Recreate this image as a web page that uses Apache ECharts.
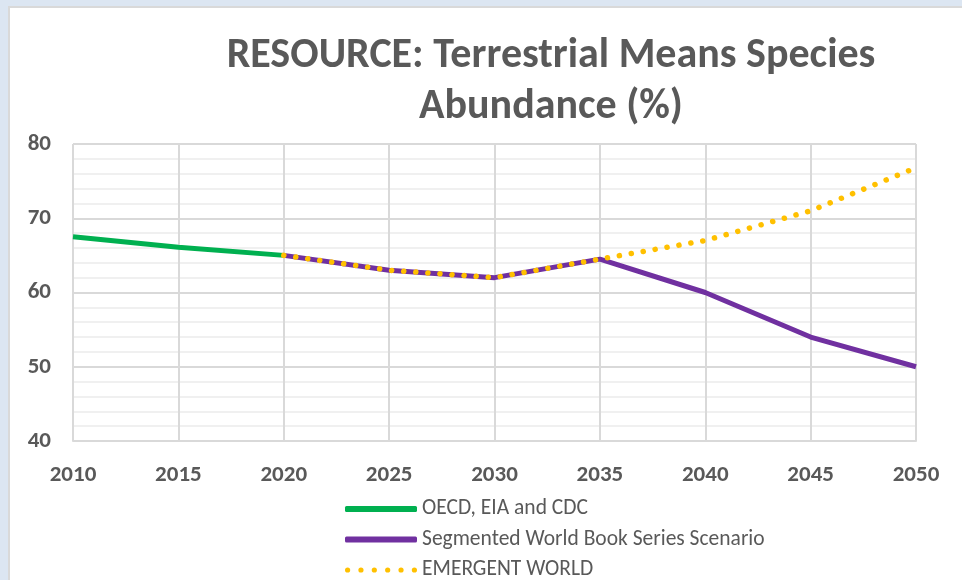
<!DOCTYPE html>
<html>
<head>
<meta charset="utf-8">
<script src="https://cdn.jsdelivr.net/npm/echarts@6/dist/echarts.min.js"></script>
<style>
  html, body { margin: 0; padding: 0; background: #dce6f2; overflow: hidden; height: 580px; }
  #chart {
    position: absolute; left: 8px; top: 6px;
    width: 952px; height: 600px;
    background: #fff;
    border-top: 2px solid #d9d9d9; border-left: 2px solid #d9d9d9;
  }
</style>
</head>
<body>
<div id="chart"></div>
<script>
// years on the x axis
const years = ['2010', '2015', '2020', '2025', '2030', '2035', '2040', '2045', '2050'];
// OECD, EIA and CDC (historic)
const oecdData = [67.5, 66.1, 65, null, null, null, null, null, null];
// Segmented World Book Series Scenario
const segmentedData = [null, null, 65, 63, 62, 64.5, 60, 54, 50];
// EMERGENT WORLD
const emergentData = [null, null, 65, 63, 62, 64.5, 67, 71, 76.8];

const labelColor = '#595959';
const font = 'Calibri, Carlito, "Open Sans", sans-serif';

// dotted legend icon: six round dots
let dots = '';
for (let i = 0; i < 6; i++) {
  let cx = 2.6 + i * 13.36;
  dots += 'M' + (cx - 2.6) + ' 3a2.6 2.6 0 1 0 5.2 0a2.6 2.6 0 1 0 -5.2 0Z';
}

let chart = echarts.init(document.getElementById('chart'));
let option = {
  animation: false,
  title: {
    text: 'RESOURCE: Terrestrial Means Species\nAbundance (%)',
    left: 536,
    top: 18,
    textAlign: 'center',
    textStyle: {
      color: labelColor,
      fontSize: 42,
      fontWeight: 'bold',
      fontFamily: font,
      lineHeight: 51
    }
  },
  legend: {
    orient: 'vertical',
    left: 335,
    top: 490,
    padding: 0,
    itemWidth: 72,
    itemHeight: 6,
    itemGap: 8.5,
    selectedMode: false,
    textStyle: { color: labelColor, fontSize: 21.5, fontFamily: font },
    data: [
      { name: 'OECD, EIA and CDC', icon: 'roundRect' },
      { name: 'Segmented World Book Series Scenario', icon: 'roundRect' },
      { name: 'EMERGENT WORLD', icon: 'path://' + dots }
    ]
  },
  grid: { left: 63, right: 46, top: 136, bottom: 167 },
  xAxis: {
    type: 'category',
    boundaryGap: false,
    data: years,
    axisLine: { lineStyle: { color: '#d9d9d9', width: 2 } },
    axisTick: { show: false },
    axisLabel: { color: labelColor, fontSize: 23, fontWeight: 'bold', fontFamily: font, margin: 23 },
    splitLine: { show: true, lineStyle: { color: '#d9d9d9', width: 2 } }
  },
  yAxis: {
    type: 'value',
    min: 40,
    max: 80,
    interval: 10,
    axisLine: { show: false },
    axisTick: { show: false },
    axisLabel: { color: labelColor, fontSize: 23, fontWeight: 'bold', fontFamily: font, margin: 22 },
    splitLine: { lineStyle: { color: '#d9d9d9', width: 2 } },
    minorTick: { show: false, splitNumber: 5 },
    minorSplitLine: { show: true, lineStyle: { color: '#f0f0f0', width: 2 } }
  },
  series: [
    {
      name: 'OECD, EIA and CDC',
      type: 'line',
      data: oecdData,
      symbol: 'none',
      color: '#00b050',
      lineStyle: { width: 5, color: '#00b050' },
      z: 2
    },
    {
      name: 'Segmented World Book Series Scenario',
      type: 'line',
      data: segmentedData,
      symbol: 'none',
      color: '#7030a0',
      lineStyle: { width: 5, color: '#7030a0' },
      z: 3
    },
    {
      name: 'EMERGENT WORLD',
      type: 'line',
      data: emergentData,
      symbol: 'none',
      color: '#ffc000',
      lineStyle: { width: 5.5, color: '#ffc000', type: [0.1, 12], cap: 'round' },
      z: 4
    }
  ]
};
chart.setOption(option);
</script>
</body>
</html>
